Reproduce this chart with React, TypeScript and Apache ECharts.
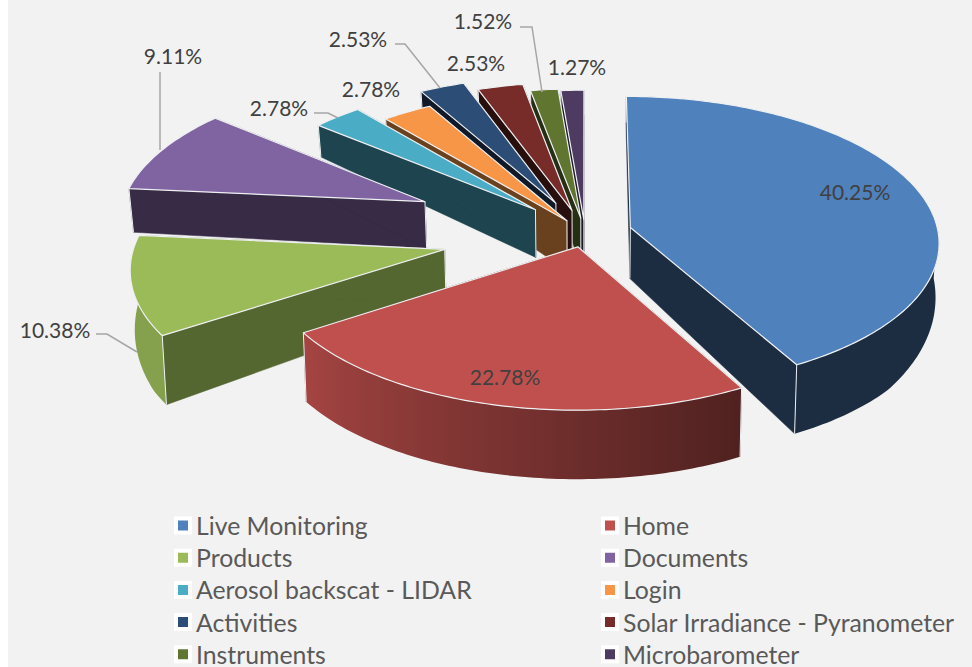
import React, { useEffect, useRef } from "react";
import * as echarts from "echarts";

const categories = ["Live Monitoring", "Home", "Products", "Documents", "Aerosol backscat - LIDAR", "Login", "Activities", "Solar Irradiance - Pyranometer", "Instruments", "Microbarometer"];
const values = [40.25, 22.78, 10.38, 9.11, 2.78, 2.78, 2.53, 2.53, 1.52, 1.27];
const colors = ["#4f81bd", "#c0504d", "#9bbb59", "#8064a2", "#4bacc6", "#f79646", "#2c4d75", "#772c2a", "#5f7530", "#4d3b62"];
const sideShade = [0.35, 0.38, 0.55, 0.43, 0.4, 0.43, 0.33, 0.33, 0.4, 0.4];
const rimFloor = [0.35, 0.41, 0.35, 0.35, 0.35, 0.35, 0.35, 0.35, 0.35, 0.35];
const explosion = [47, 30, 143, 177, 71, 32, 71, 50, 32, 28];
const drawOrder = [9, 8, 7, 6, 5, 4, 3, 2, 0, 1];
const labelSpots = [[855, 191], [505, 376], [55, 329], [173, 55], [279, 107], [371, 88], [358, 38], [476, 62], [483, 20], [577, 66]];
const leaders: Record<number, number[][]> = {
  2: [[96, 334], [107, 334], [137, 352]],
  3: [[160, 72], [160, 150]],
  4: [[314, 113], [328, 113], [338, 118]],
  6: [[395, 44], [405, 44], [440, 88]],
  8: [[520, 27], [532, 27], [542, 92]],
};

const CX = 585, CY = 233, R = 308, SIN_T = 0.47, Q = 1 / 1500;
const total = values.reduce((a, b) => a + b, 0);
const starts: number[] = [];
values.reduce((acc, v, i) => { starts[i] = acc; return acc + (v / total) * Math.PI * 2; }, 0);

const project = (u: number, v: number) => {
  const s = 1 / (1 - v * Q * SIN_T);
  return [CX + s * u, CY + SIN_T * v * s];
};
const drop = (p: number[]) => [p[0] + (CX - p[0]) * 0.01, p[1] + Math.min(69, 32 + 0.19 * (p[1] - 127))];
const shade = (hex: string, f: number) => {
  const n = parseInt(hex.slice(1), 16);
  return `rgb(${Math.round(((n >> 16) & 255) * f)},${Math.round(((n >> 8) & 255) * f)},${Math.round((n & 255) * f)})`;
};
const rimShade = (a: number, low: number) => {
  const d = (a * 180) / Math.PI;
  return Math.min(0.86, Math.max(low, low + ((d - 151) / 85) * (0.86 - low)));
};

const renderSlice = (i: number) => () => {
  const a0 = starts[i];
  const a1 = a0 + (values[i] / total) * Math.PI * 2;
  const mid = (a0 + a1) / 2;
  const ue = explosion[i] * Math.sin(mid), ve = -explosion[i] * Math.cos(mid);
  const apex = project(ue, ve);
  const steps = Math.max(4, Math.round(((a1 - a0) * 180) / Math.PI));
  const at = (a: number) => project(ue + R * Math.sin(a), ve - R * Math.cos(a));
  const arc: number[][] = [];
  for (let k = 0; k <= steps; k++) arc.push(at(a0 + ((a1 - a0) * k) / steps));
  const side = shade(colors[i], sideShade[i]);
  const first = arc[0], last = arc[arc.length - 1];
  const edge = { stroke: "#eef0f2", lineWidth: 1 };
  const wall = (c: number[]) => ({
    type: "polygon",
    shape: { points: [apex, c, drop(c), drop(apex)] },
    style: { fill: side, stroke: side, lineWidth: 0.5 },
  });
  const seam = (c: number[]) => ({
    type: "line",
    shape: { x1: c[0], y1: c[1], x2: drop(c)[0], y2: drop(c)[1] },
    style: edge,
  });
  // The outer wall is only seen on the half of the pie that faces the viewer.
  const f0 = Math.max(a0, Math.PI / 2), f1 = Math.min(a1, (Math.PI * 3) / 2);
  const rim: any[] = [];
  if (f1 > f0) {
    const n = Math.max(2, Math.round(((f1 - f0) * 180) / Math.PI));
    const angles: number[] = [], top: number[][] = [];
    for (let k = 0; k <= n; k++) { angles.push(f0 + ((f1 - f0) * k) / n); top.push(at(angles[k])); }
    const xs = top.map((p) => p[0]);
    const minX = Math.min(...xs), maxX = Math.max(...xs);
    const stops = top
      .map((p, k) => ({ offset: (p[0] - minX) / Math.max(1, maxX - minX), color: shade(colors[i], rimShade(angles[k], rimFloor[i])) }))
      .sort((x, y) => x.offset - y.offset);
    rim.push({
      type: "polygon",
      shape: { points: [...top, ...top.map(drop).reverse()] },
      style: { fill: new echarts.graphic.LinearGradient(0, 0, 1, 0, stops), stroke: "none" },
    });
  }
  return {
    type: "group",
    children: [
      wall(first),
      wall(last),
      ...rim,
      seam(apex),
      seam(first),
      seam(last),
      {
        type: "polygon",
        shape: { points: [apex, ...arc] },
        style: { fill: colors[i], stroke: "#eef0f2", lineWidth: 1.2, lineJoin: "round" },
      },
    ],
  };
};

const LABEL_FONT = "21px Lato";

export default function App() {
  const ref = useRef<HTMLDivElement>(null);
  useEffect(() => {
    document.body.style.margin = "0";
    const chart = echarts.init(ref.current!, undefined, { renderer: "svg" });
    const legendBase = {
      orient: "vertical",
      top: 513,
      height: 200,
      itemWidth: 14,
      itemHeight: 14,
      itemGap: 7.2,
      padding: 0,
      selectedMode: false,
      icon: "rect",
      itemStyle: { borderColor: "#ffffff", borderWidth: 4 },
      textStyle: { fontFamily: "Lato", fontSize: 24.8, color: "#595959", padding: [0, 0, 0, 1], lineHeight: 23.3 },
    };
    chart.setOption({
      animation: false,
      backgroundColor: "#f2f2f2",
      legend: [
        { ...legendBase, left: 174, data: categories.filter((_, i) => i % 2 === 0) },
        { ...legendBase, left: 601, data: categories.filter((_, i) => i % 2 === 1) },
      ],
      series: drawOrder.map((i) => ({
        type: "custom",
        name: categories[i],
        coordinateSystem: "none",
        silent: true,
        itemStyle: { color: colors[i] },
        data: [[values[i]]],
        renderItem: renderSlice(i),
      })),
      graphic: [
        { type: "rect", shape: { x: 0, y: 0, width: 8, height: 667 }, style: { fill: "#ffffff" }, z: 100 },
        ...Object.values(leaders).map((pts) => ({
          type: "polyline",
          z: 100,
          shape: { points: pts },
          style: { stroke: "#a6a6a6", lineWidth: 1.5, fill: "none" },
        })),
        ...values.map((v, i) => ({
          type: "text",
          z: 100,
          x: labelSpots[i][0],
          y: labelSpots[i][1],
          style: {
            text: `${v.toFixed(2)}%`,
            font: LABEL_FONT,
            fill: "#404040",
            align: "center",
            verticalAlign: "middle",
            textAlign: "center",
            textVerticalAlign: "middle",
          },
        })),
      ],
    });
    return () => chart.dispose();
  }, []);
  return <div ref={ref} style={{ position: "absolute", left: 0, top: 0, width: 972, height: 667 }} />;
}
